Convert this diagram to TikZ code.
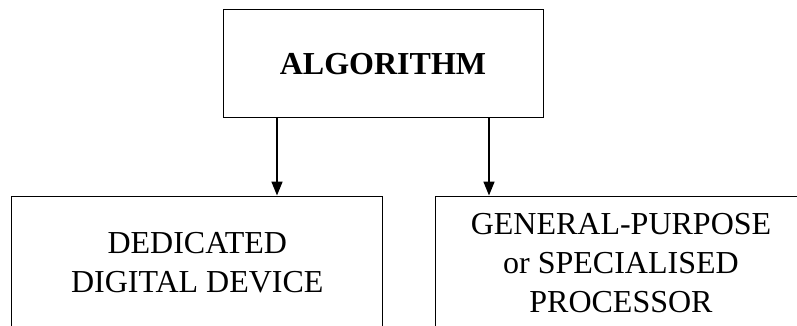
\documentclass[tikz,border=0pt]{standalone}
\usepackage{fontspec}
\setmainfont{Liberation Serif}
\usetikzlibrary{arrows.meta}
\begin{document}
\begin{tikzpicture}[x=1pt,y=-1pt,
  box/.style={draw, line width=1pt, align=center, inner sep=0pt,
    font=\fontsize{32}{39}\selectfont},
  arr/.style={line width=1.7pt, -{Triangle[length=14pt,width=11pt]}}]
\path[use as bounding box, clip] (0,0) rectangle (797,325);
\node[box, minimum width=320pt, minimum height=107.7pt] (top) at (383,63.8) {\textbf{ALGORITHM}};
\node[box, minimum width=371.3pt, minimum height=134pt] (left) at (197.3,263) {DEDICATED\\DIGITAL DEVICE};
\node[box, minimum width=370.6pt, minimum height=134pt] (right) at (621,263) {GENERAL-PURPOSE\\or SPECIALISED\\PROCESSOR};
\draw[arr] ([xshift=-106pt]top.south) -- ([xshift=-106pt]top.south |- left.north);
\draw[arr] ([xshift=106pt]top.south) -- ([xshift=106pt]top.south |- right.north);
\end{tikzpicture}
\end{document}
